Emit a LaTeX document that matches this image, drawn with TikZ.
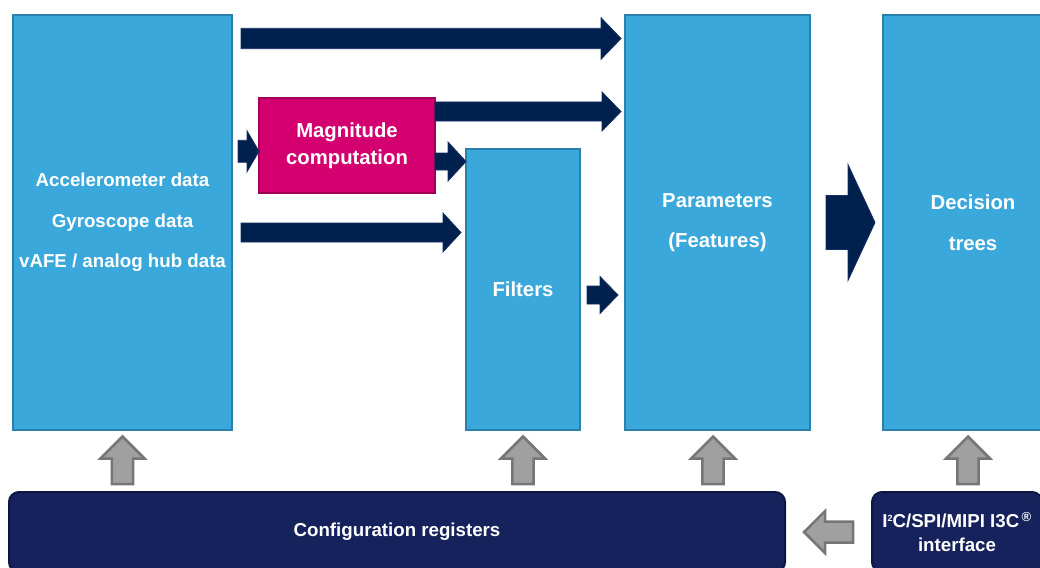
\documentclass[tikz,border=0pt]{standalone}
\usepackage{fontspec}
\setmainfont{Liberation Sans}
\usetikzlibrary{calc}

\definecolor{boxblue}{RGB}{58,168,219}
\definecolor{boxedge}{RGB}{44,128,172}
\definecolor{magfill}{RGB}{212,0,111}
\definecolor{magedge}{RGB}{160,0,88}
\definecolor{navy}{RGB}{0,32,78}
\definecolor{navyedge}{RGB}{24,46,98}
\definecolor{regfill}{RGB}{21,34,92}
\definecolor{regedge}{RGB}{12,22,64}
\definecolor{greyfill}{RGB}{160,160,160}
\definecolor{greyedge}{RGB}{118,118,118}

\tikzstyle{block}=[draw=boxedge,fill=boxblue,line width=2pt,outer sep=0pt,text=white,align=center,inner sep=0pt,font=\bfseries\fontsize{20.3}{40.5}\selectfont]
\tikzstyle{source}=[block,font=\bfseries\fontsize{18.7}{40.5}\selectfont]
\tikzstyle{magnitude}=[block,draw=magedge,fill=magfill,line width=2.5pt,font=\bfseries\fontsize{20.3}{27}\selectfont]
\tikzstyle{register}=[draw=regedge,fill=regfill,line width=2pt,outer sep=0pt,rounded corners=10pt,text=white,align=center,inner sep=0pt,font=\bfseries\fontsize{18.7}{24}\selectfont]
\tikzstyle{flow}=[fill=navy,draw=navyedge,line width=0.8pt]
\tikzstyle{ctrl}=[fill=greyfill,draw=greyedge,line width=2.5pt]

% block arrow: [style]{from}{to}{half shaft}{half head}{head length}
\newcommand{\blockarrow}[6][flow]{%
  \coordinate (ba-s) at #2;
  \coordinate (ba-e) at #3;
  \coordinate (ba-h) at ($(ba-e)!#6!(ba-s)$);
  \draw[#1] ($(ba-s)!#4!90:(ba-e)$) -- ($(ba-h)!#4!90:(ba-e)$) -- ($(ba-h)!#5!90:(ba-e)$) -- (ba-e)
    -- ($(ba-h)!#5!-90:(ba-e)$) -- ($(ba-h)!#4!-90:(ba-e)$) -- ($(ba-s)!#4!-90:(ba-e)$) -- cycle;
}

\begin{document}
\begin{tikzpicture}[x=1pt,y=-1pt]
    \clip (0,0) rectangle (1040,567);
    %Blocks
    \node[source,minimum width=219pt,minimum height=415pt] (input) at (122.5,222.5)
        {Accelerometer data\\Gyroscope data\\vAFE / analog hub data};
    \node[magnitude,minimum width=176pt,minimum height=95pt] (mag) at (347,145.5) {Magnitude\\computation};
    \node[block,minimum width=114pt,minimum height=281pt] (filters) at (523,289.5) {Filters};
    \node[block,minimum width=185pt,minimum height=415pt] (params) at (717.5,222.5) {Parameters\\(Features)};
    \node[block,minimum width=180pt,minimum height=415pt] (decision) at (973,222.5) {Decision\\trees};
    \node[register,minimum width=776pt,minimum height=80pt] (config) at (397,532) {Configuration registers};
    \node[register,minimum width=170pt,minimum height=80pt] (interface) at (957,532)
        {I\raisebox{6pt}{\fontsize{9}{9}\selectfont 2}C/SPI/MIPI I3C\textsuperscript{\,\textregistered}\\interface};
    %Data flow
    \blockarrow{([xshift=9pt,yshift=-23.5pt]input.north east)}{([xshift=-4pt,yshift=-23.5pt]params.north west)}{10.2pt}{20.8pt}{20pt}
    \blockarrow{([yshift=34pt]mag.east)}{([xshift=-4pt,yshift=-96.5pt]params.north west)}{9.5pt}{19.5pt}{19pt}
    \blockarrow{([xshift=6pt,yshift=71.2pt]input.east)}{([yshift=-5.8pt]mag.west)}{11pt}{20.5pt}{12pt}
    \blockarrow{([yshift=-16pt]mag.east)}{([yshift=-12.5pt]filters.north west)}{8.5pt}{19.5pt}{18pt}
    \blockarrow{([xshift=9pt,yshift=-10pt]input.east)}{([xshift=-5pt,yshift=57pt]filters.west)}{9.5pt}{19.5pt}{18pt}
    \blockarrow{([xshift=7pt,yshift=-5.5pt]filters.east)}{([xshift=-7pt,yshift=-72.5pt]params.west)}{9pt}{18.5pt}{18pt}
    \blockarrow{([xshift=16pt]params.east)}{([xshift=-8pt]decision.west)}{27pt}{58pt}{27pt}
    %Configuration
    \foreach \blk/\base/\dx in {input/config/0, filters/config/0, params/config/-4.5, decision/interface/-5}
        \blockarrow[ctrl]{($(\blk.south |- \base.north)+(\dx,-8)$)}{($(\blk.south)+(\dx,6.5)$)}{10.7pt}{22pt}{22pt};
    \blockarrow[ctrl]{([xshift=-19pt]interface.west)}{([xshift=19pt]config.east)}{10.5pt}{21pt}{21pt}
\end{tikzpicture}
\end{document}
